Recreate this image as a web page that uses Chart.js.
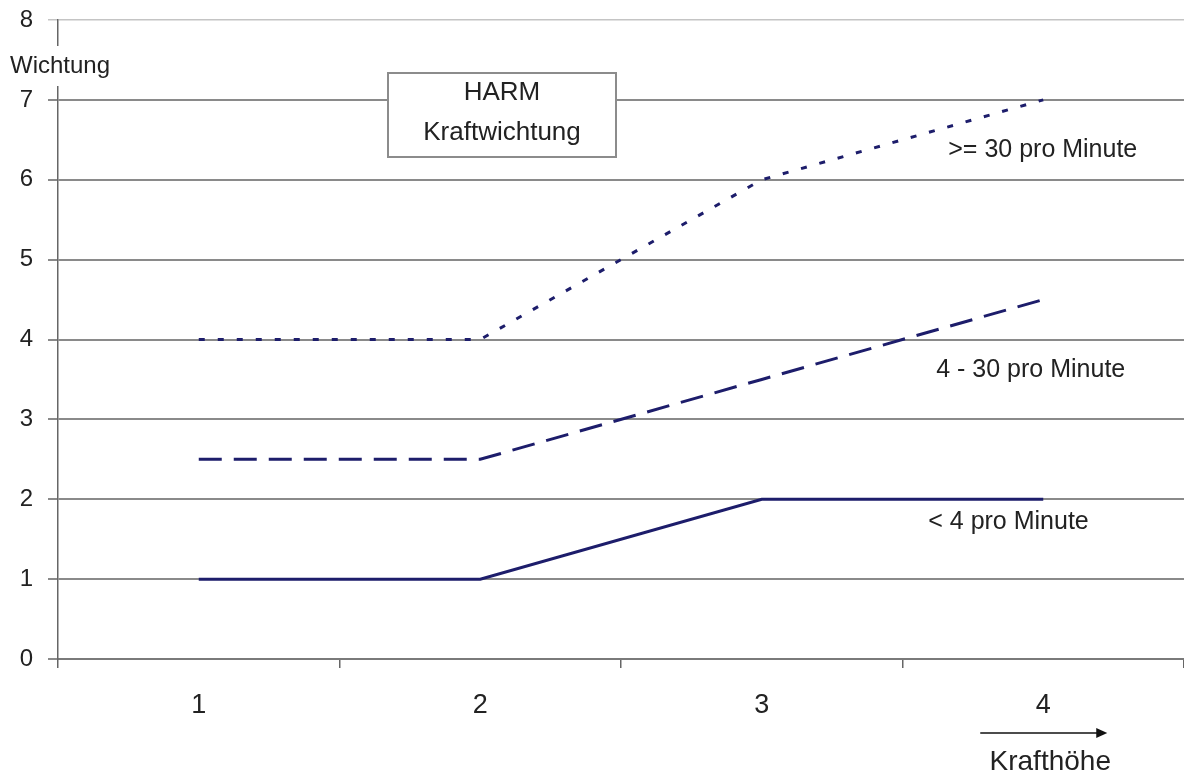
<!DOCTYPE html>
<html>
<head>
<meta charset="utf-8">
<script src="https://cdn.jsdelivr.net/npm/chart.js@4.4.1/dist/chart.umd.min.js"></script>
<style>
  html, body { margin: 0; padding: 0; background: #ffffff; }
  #wrap { width: 1184px; height: 779px; }
</style>
</head>
<body>
<div id="wrap"><canvas id="c" width="1184" height="779"></canvas></div>
<script>
// Kraftstufen (x) und Wichtungsfaktoren je Häufigkeitsklasse
const categories = ['1', '2', '3', '4'];
const hochFrequent = [4, 4, 6, 7];        // >= 30 pro Minute
const mittelFrequent = [2.5, 2.5, 3.5, 4.5]; // 4 - 30 pro Minute
const niedrigFrequent = [1, 1, 2, 2];     // < 4 pro Minute
const yTicks = [0, 1, 2, 3, 4, 5, 6, 7, 8];
const seriesNames = ['>= 30 pro Minute', '4 - 30 pro Minute', '< 4 pro Minute'];
const titleLines = ['HARM', 'Kraftwichtung'];
const yTitle = 'Wichtung';
const xTitle = 'Krafthöhe';

const FONT = '"Liberation Sans", Arial, sans-serif';
const TEXT = '#222222';
const NAVY = '#1d1d6b';
const GRID = '#8a8a8a';

// Beschriftungen, Titelkasten und Pfeil
const decorations = {
  id: 'decorations',
  afterDraw(chart) {
    const { ctx, chartArea, scales } = chart;
    const x = scales.x, y = scales.y;
    ctx.save();
    ctx.fillStyle = TEXT;
    ctx.textBaseline = 'middle';

    // Achsentitel y, verdeckt die Achsenlinie
    ctx.font = '24px ' + FONT;
    const wW = ctx.measureText(yTitle).width;
    ctx.fillStyle = '#ffffff';
    ctx.fillRect(8, 46, wW + 6, 40);
    ctx.fillStyle = TEXT;
    ctx.textAlign = 'left';
    ctx.fillText(yTitle, 10, 66);

    // Titelkasten
    const bx = 388, by = 73, bw = 228, bh = 84;
    ctx.fillStyle = '#ffffff';
    ctx.fillRect(bx, by, bw, bh);
    ctx.strokeStyle = '#8c8c8c';
    ctx.lineWidth = 2;
    ctx.strokeRect(bx, by, bw, bh);
    ctx.fillStyle = TEXT;
    ctx.textAlign = 'center';
    ctx.font = '26px ' + FONT;
    ctx.fillText(titleLines[0], bx + bw / 2, by + 20);
    ctx.fillText(titleLines[1], bx + bw / 2, by + 60);

    // Serienbeschriftungen
    const last = x.getPixelForValue(3);
    ctx.textAlign = 'left';
    ctx.font = '25px ' + FONT;
    ctx.fillText(seriesNames[0], last - 95, y.getPixelForValue(6.37));
    ctx.fillText(seriesNames[1], last - 107, y.getPixelForValue(3.62));
    ctx.fillText(seriesNames[2], last - 115, y.getPixelForValue(1.71));

    // Pfeil und Achsentitel x
    const ay = 733, ax0 = last - 63, ax1 = last + 64;
    ctx.strokeStyle = '#111111';
    ctx.lineWidth = 1.5;
    ctx.beginPath();
    ctx.moveTo(ax0, ay);
    ctx.lineTo(ax1 - 9, ay);
    ctx.stroke();
    ctx.fillStyle = '#111111';
    ctx.beginPath();
    ctx.moveTo(ax1, ay);
    ctx.lineTo(ax1 - 11, ay - 5);
    ctx.lineTo(ax1 - 11, ay + 5);
    ctx.closePath();
    ctx.fill();

    ctx.fillStyle = TEXT;
    ctx.textAlign = 'center';
    ctx.font = '28px ' + FONT;
    ctx.fillText(xTitle, last + 7, 762);
    ctx.restore();
  }
};

new Chart(document.getElementById('c'), {
  type: 'line',
  data: {
    labels: categories,
    datasets: [
      { label: seriesNames[0], data: hochFrequent, borderColor: NAVY, borderWidth: 3,
        borderDash: [6, 13], borderCapStyle: 'butt', pointRadius: 0, tension: 0, fill: false },
      { label: seriesNames[1], data: mittelFrequent, borderColor: NAVY, borderWidth: 3,
        borderDash: [23, 12], borderCapStyle: 'butt', pointRadius: 0, tension: 0, fill: false },
      { label: seriesNames[2], data: niedrigFrequent, borderColor: NAVY, borderWidth: 3,
        pointRadius: 0, tension: 0, fill: false }
    ]
  },
  options: {
    responsive: false,
    animation: false,
    layout: { padding: { top: 20, left: 0, right: 0, bottom: 0 } },
    plugins: { legend: { display: false }, tooltip: { enabled: false } },
    scales: {
      x: {
        type: 'category',
        offset: true,
        grid: { offset: true, drawOnChartArea: false, drawTicks: true, tickLength: 9,
                color: '#666666', lineWidth: 1.5 },
        border: { display: true, color: '#7a7a7a', width: 2 },
        ticks: { color: TEXT, font: { family: FONT, size: 27 }, padding: 21, maxRotation: 0 },
        afterFit(scale) { scale.height = 120; }
      },
      y: {
        min: 0,
        max: 8,
        afterBuildTicks(scale) { scale.ticks = yTicks.map(v => ({ value: v })); },
        grid: {
          color: ctx => (ctx.tick && ctx.tick.value === 8) ? '#c4c4c4' : GRID,
          lineWidth: ctx => (ctx.tick && ctx.tick.value === 8) ? 1.5 : 2,
          tickLength: 10, drawTicks: true
        },
        border: { display: true, color: '#666666', width: 1.5 },
        ticks: { color: TEXT, font: { family: FONT, size: 24, lineHeight: 0.3 }, padding: 15 },
        afterFit(scale) { scale.width = 58; }
      }
    }
  },
  plugins: [decorations]
});
</script>
</body>
</html>
